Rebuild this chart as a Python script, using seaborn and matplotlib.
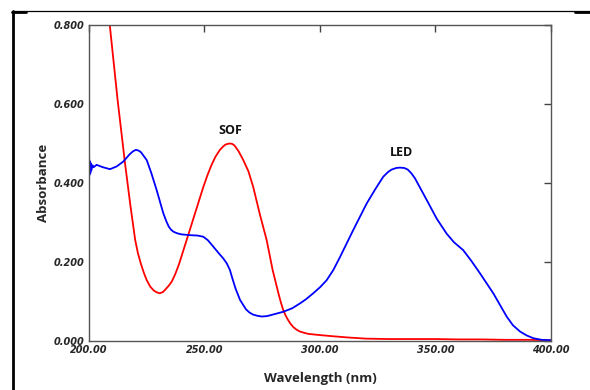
import numpy as np
import pandas as pd
import matplotlib
matplotlib.use("Agg")
import matplotlib.pyplot as plt
import seaborn as sns
from matplotlib.lines import Line2D

# SOF (red) spectrum
sof_nm = [208.5, 209.0, 212.4, 214.0, 215.6, 218.0, 220.0, 221.2, 222.5, 223.8, 225.0,
          226.5, 228.0, 229.4, 230.7, 232.0, 233.0, 234.4, 235.8, 237.4, 239.0, 242.3,
          246.0, 249.5, 251.3, 253.0, 254.8, 256.7, 258.0, 259.0, 260.0, 261.0, 262.0,
          263.0, 264.8, 266.8, 269.0, 271.1, 274.0, 276.9, 279.5, 282.0, 283.0, 284.0,
          285.0, 286.0, 287.2, 288.5, 289.8, 291.3, 293.0, 295.0, 300.0, 305.7, 312.0,
          320.0, 330.0, 340.0, 350.0, 360.0, 370.0, 380.0, 390.0, 400.0]
sof_abs = [0.830, 0.800, 0.610, 0.530, 0.450, 0.340, 0.256, 0.222, 0.195, 0.172, 0.154,
           0.138, 0.128, 0.123, 0.121, 0.124, 0.130, 0.139, 0.150, 0.170, 0.195, 0.256,
           0.325, 0.390, 0.420, 0.445, 0.467, 0.484, 0.492, 0.497, 0.499, 0.500, 0.499,
           0.495, 0.480, 0.458, 0.430, 0.390, 0.320, 0.256, 0.180, 0.121, 0.099, 0.080,
           0.066, 0.055, 0.044, 0.035, 0.029, 0.024, 0.021, 0.018, 0.015, 0.012, 0.009,
           0.006, 0.005, 0.005, 0.005, 0.004, 0.004, 0.003, 0.003, 0.002]

# LED (blue) spectrum
led_nm = [200.0, 200.2, 200.4, 200.6, 200.8, 201.0, 201.5, 202.0, 203.3, 206.0, 209.1,
          212.0, 214.8, 217.5, 219.0, 220.3, 221.5, 222.5, 225.0, 227.0, 229.3, 232.2,
          233.5, 234.5, 235.5, 236.5, 238.0, 240.0, 243.7, 247.0, 249.5, 251.5, 253.8,
          256.5, 258.0, 259.6, 261.0, 262.0, 263.5, 265.4, 266.8, 268.0, 269.5, 271.0,
          272.8, 274.8, 277.0, 279.0, 284.1, 288.0, 291.3, 294.0, 297.1, 300.0, 302.9,
          305.8, 308.7, 314.4, 320.2, 324.0, 327.4, 329.5, 331.0, 333.0, 334.6, 336.5,
          338.0, 339.5, 341.1, 346.2, 350.5, 354.8, 358.0, 362.0, 365.5, 369.3, 375.0,
          380.8, 383.5, 386.6, 389.5, 392.4, 396.0, 400.0]
led_abs = [0.490, 0.420, 0.455, 0.425, 0.450, 0.432, 0.445, 0.440, 0.446, 0.440, 0.435,
           0.442, 0.454, 0.472, 0.480, 0.484, 0.482, 0.478, 0.458, 0.425, 0.382, 0.323,
           0.303, 0.290, 0.282, 0.277, 0.273, 0.270, 0.268, 0.267, 0.264, 0.255, 0.239,
           0.220, 0.210, 0.197, 0.180, 0.160, 0.132, 0.104, 0.091, 0.080, 0.072, 0.067,
           0.064, 0.062, 0.063, 0.066, 0.074, 0.083, 0.095, 0.106, 0.121, 0.136, 0.154,
           0.180, 0.213, 0.281, 0.348, 0.385, 0.416, 0.428, 0.434, 0.438, 0.439, 0.438,
           0.434, 0.425, 0.412, 0.357, 0.310, 0.272, 0.250, 0.230, 0.203, 0.171, 0.121,
           0.062, 0.040, 0.024, 0.014, 0.007, 0.003, 0.002]

x_ticks = [200, 250, 300, 350, 400]
y_ticks = [0.0, 0.2, 0.4, 0.6, 0.8]
labels = [("SOF", 261.3, 0.534), ("LED", 335.3, 0.476)]

sns.set_style("white")

fig = plt.figure(figsize=(5.9, 3.9), dpi=100)
ax = fig.add_axes([0.1508, 0.1256, 0.9339 - 0.1508, 0.9359 - 0.1256])

sof = pd.DataFrame({"nm": sof_nm, "abs": sof_abs})
led = pd.DataFrame({"nm": led_nm, "abs": led_abs})
sns.lineplot(data=sof, x="nm", y="abs", sort=False, color="#ff0000", lw=1.3, ax=ax)
sns.lineplot(data=led, x="nm", y="abs", sort=False, color="#0000ff", lw=1.3, ax=ax)

ax.set_xlim(200, 400)
ax.set_ylim(0, 0.8)
ax.set_xticks(x_ticks)
ax.set_yticks(y_ticks)
ax.set_xticklabels([f"{v:.2f}" for v in x_ticks])
ax.set_yticklabels([f"{v:.3f}" for v in y_ticks])
ax.tick_params(axis="both", direction="in", length=5, width=1, color="#444444",
               top=True, right=True, labelsize=7, pad=3)
for lab in ax.get_xticklabels() + ax.get_yticklabels():
    lab.set_fontweight("bold")
    lab.set_fontstyle("italic")
    lab.set_family("DejaVu Sans")
for s in ax.spines.values():
    s.set_color("#555555")
    s.set_linewidth(1.0)
    s.set_visible(True)

ax.set_xlabel("Wavelength (nm)", fontsize=9.5, fontweight="bold", family="Open Sans", labelpad=12)
ax.set_ylabel("Absorbance", fontsize=9.5, fontweight="bold", family="Open Sans", labelpad=3)

for txt, xx, yy in labels:
    ax.text(xx, yy, txt, ha="center", va="center", fontsize=9, fontweight="bold",
            family="Open Sans", color="#111111")

# outer frame lines
W, H = 590.0, 390.0
fig.add_artist(Line2D([12.5 / W, 12.5 / W], [0, 1 - 11 / H], color="black", lw=2.0,
                      transform=fig.transFigure))
fig.add_artist(Line2D([12 / W, 1], [1 - 11 / H, 1 - 11 / H], color="black", lw=0.9,
                      transform=fig.transFigure))
fig.add_artist(Line2D([12 / W, 26 / W], [1 - 12 / H, 1 - 12 / H], color="black", lw=2.0,
                      transform=fig.transFigure))
fig.add_artist(Line2D([575 / W, 1], [1 - 12 / H, 1 - 12 / H], color="black", lw=2.0,
                      transform=fig.transFigure))

fig.savefig("out.png", dpi=100)
